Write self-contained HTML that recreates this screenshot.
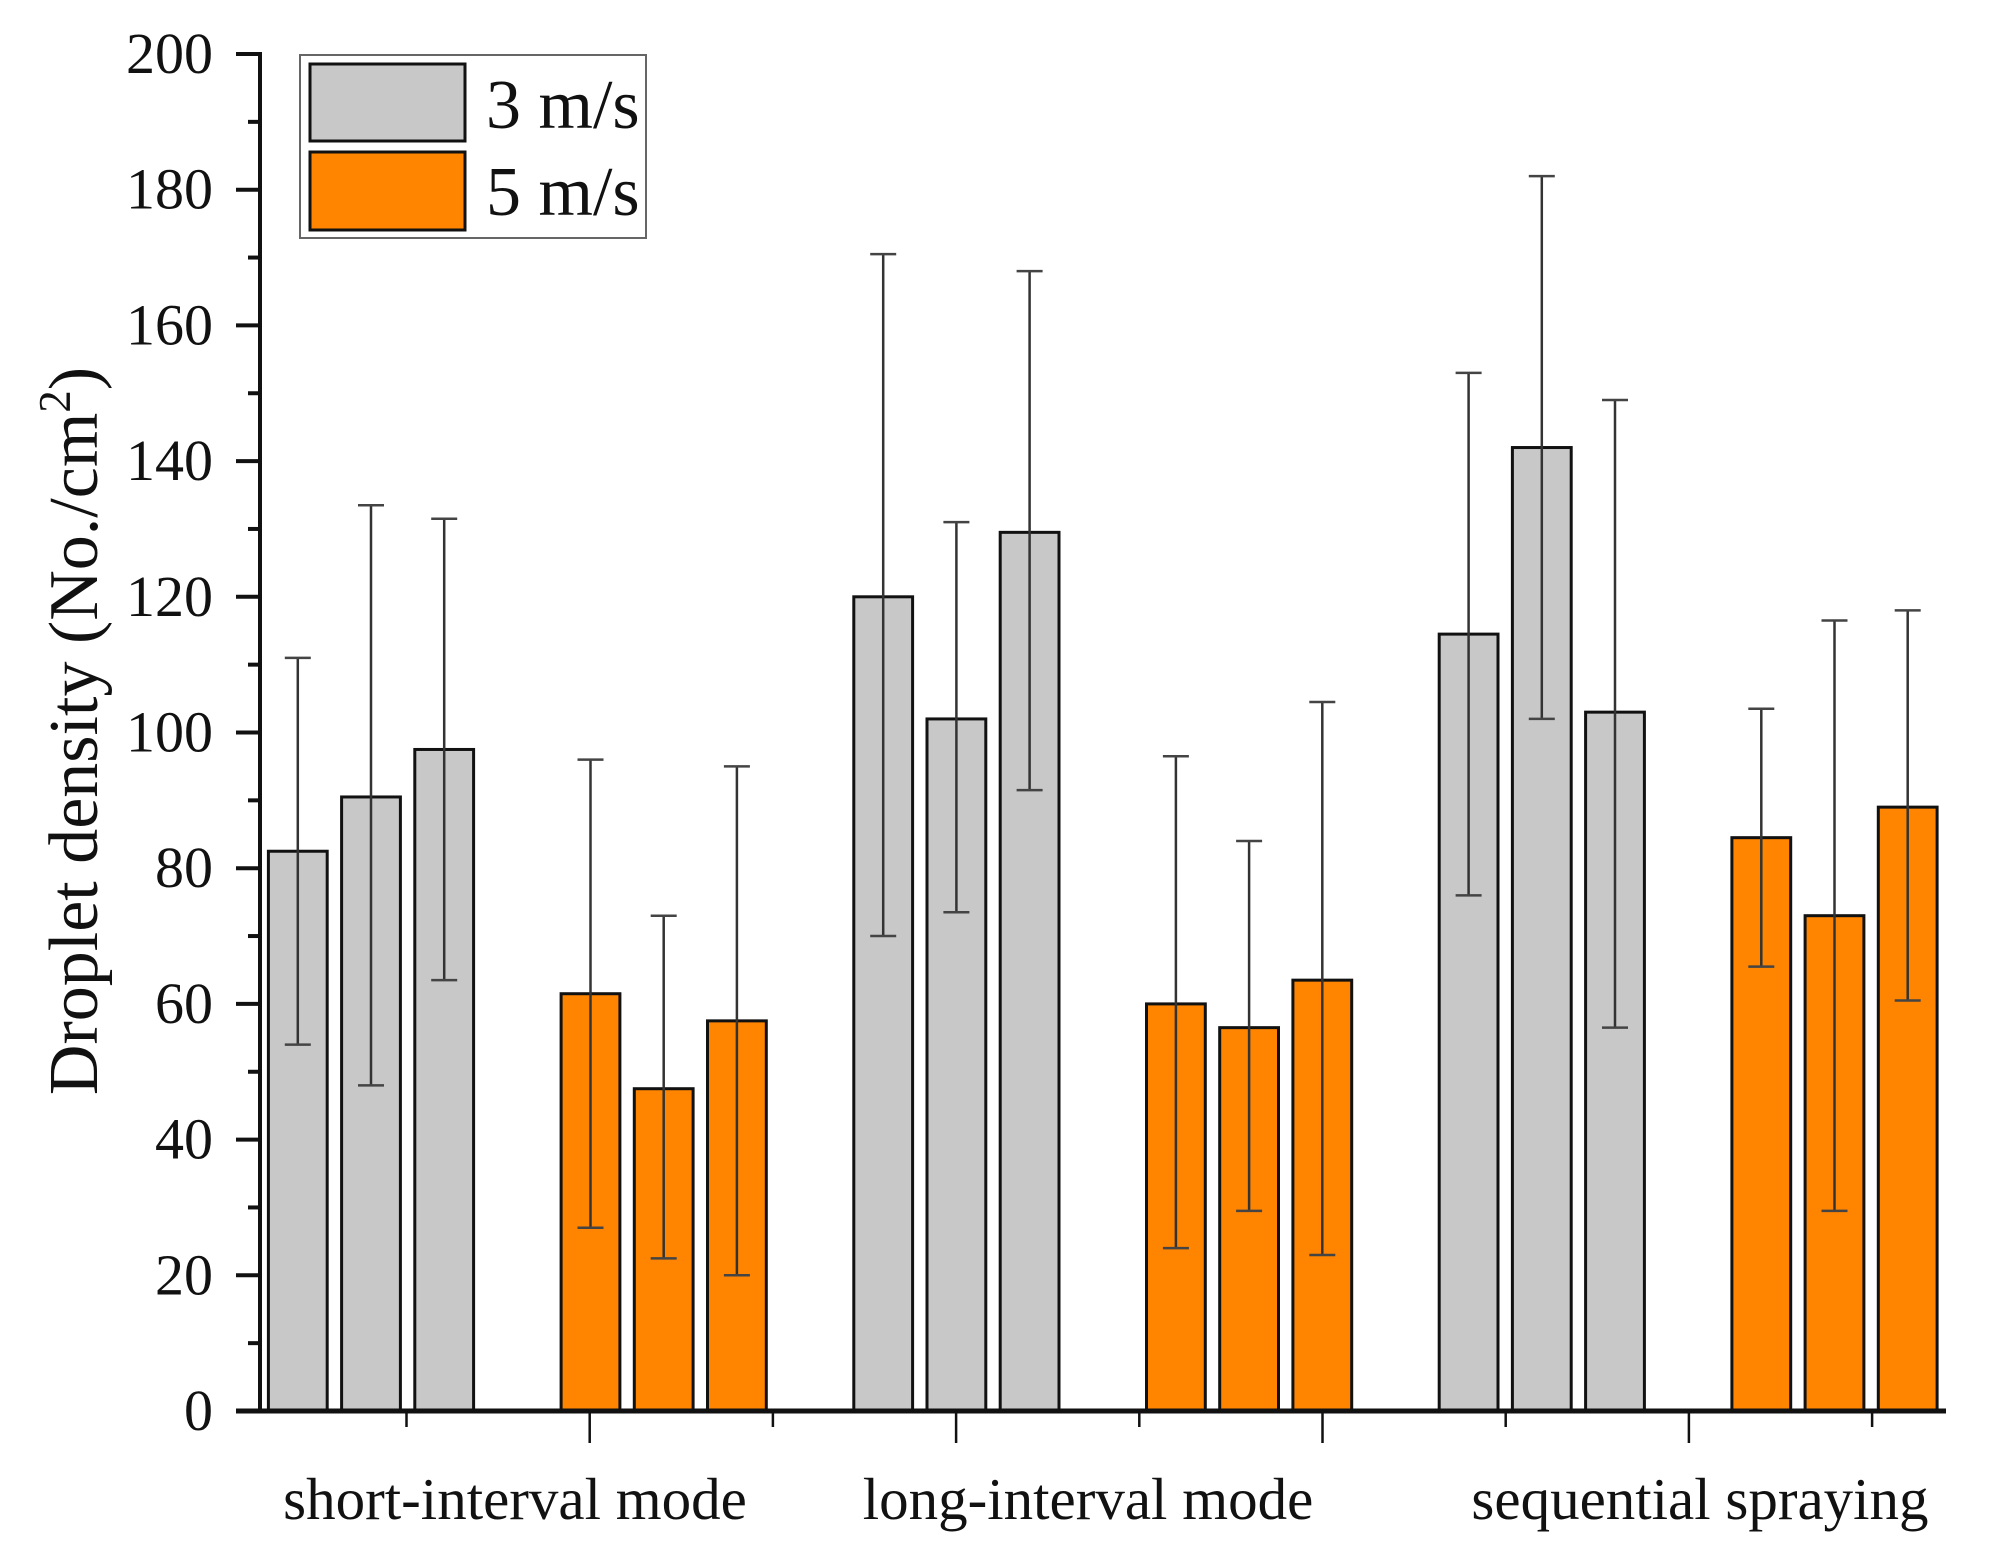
<!DOCTYPE html>
<html><head><meta charset="utf-8">
<style>
html,body{margin:0;padding:0;background:#fff;}
svg{display:block;}
text{font-family:"Liberation Serif",serif;fill:#111;}
</style></head>
<body>
<svg id="chart" width="2001" height="1560" viewBox="0 0 2001 1560">
  <g id="bars"></g>
  <g id="errs"></g>
  <g id="axes"></g>
  <text x="0" y="0" font-size="70" text-anchor="middle" transform="translate(97 731) rotate(-90)">Droplet density (No./cm<tspan font-size="45" dy="-27">2</tspan><tspan dy="27">)</tspan></text>
  <g>
    <rect x="300" y="55" width="346" height="183" fill="#fff" stroke="#666" stroke-width="2"/>
    <rect x="310" y="64" width="155" height="77" fill="#c8c8c8" stroke="#111" stroke-width="3"/>
    <text x="486" y="128" font-size="70">3 m/s</text>
    <rect x="310" y="152" width="155" height="78" fill="#ff8400" stroke="#111" stroke-width="3"/>
    <text x="486" y="215" font-size="70">5 m/s</text>
  </g>
</svg>
<script>
const categories = ["short-interval mode","long-interval mode","sequential spraying"];
const groupSpeeds = ["3 m/s","5 m/s","3 m/s","5 m/s","3 m/s","5 m/s"];
const means = [82.5,90.5,97.5, 61.5,47.5,57.5, 120,102,129.5, 60,56.5,63.5, 114.5,142,103, 84.5,73,89];
const errUpper = [111,133.5,131.5, 96,73,95, 170.5,131,168, 96.5,84,104.5, 153,182,149, 103.5,116.5,118];
const errLower = [54,48,63.5, 27,22.5,20, 70,73.5,91.5, 24,29.5,23, 76,102,56.5, 65.5,29.5,60.5];
const yTicks = [0,20,40,60,80,100,120,140,160,180,200];

const NS="http://www.w3.org/2000/svg";
const y0=1411, yTop=54, yMax=200;
function yScale(v){return y0-(v/yMax)*(y0-yTop);}
function xBar(i){const g=Math.floor(i/3), j=i%3; return 268.4+292.7*g+73.2*j;}
const barW=58.8;
function mk(tag,attrs,parent){const e=document.createElementNS(NS,tag);for(const k in attrs)e.setAttribute(k,attrs[k]);parent.appendChild(e);return e;}
const bars=document.getElementById('bars'), errs=document.getElementById('errs'), axes=document.getElementById('axes');

means.forEach((m,i)=>{
  const g=Math.floor(i/3);
  const fill = groupSpeeds[g]==="3 m/s" ? "#c8c8c8" : "#ff8400";
  const x=xBar(i), yv=yScale(m);
  const r=mk('rect',{x:x,y:yv,width:barW,height:y0-yv,fill:fill,stroke:'#111','stroke-width':3},bars);
  
  
  const cx=x+barW/2, yu=yScale(errUpper[i]), yl=yScale(errLower[i]);
  const l=mk('line',{x1:cx,x2:cx,y1:yu,y2:yl,stroke:'#333','stroke-width':2.5},errs);
  
  
  const c1=mk('line',{x1:cx-13,x2:cx+13,y1:yu,y2:yu,stroke:'#444','stroke-width':2.5},errs);
  
  
  const c2=mk('line',{x1:cx-13,x2:cx+13,y1:yl,y2:yl,stroke:'#444','stroke-width':2.5},errs);
  
  
});

const ya=mk('line',{x1:260,x2:260,y1:yTop-2,y2:y0,stroke:'#111','stroke-width':4},axes);


yTicks.forEach((t,k)=>{
  const y=yScale(t);
  const tk=mk('line',{x1:236,x2:260,y1:y,y2:y,stroke:'#111','stroke-width':4},axes);
  
  
  const tx=mk('text',{x:213,y:y+19,'font-size':58,'text-anchor':'end'},axes);
  tx.textContent=t;
  
  
  if(k<yTicks.length-1){
    const ym=yScale(t+10);
    const mt=mk('line',{x1:248,x2:260,y1:ym,y2:ym,stroke:'#111','stroke-width':4},axes);
    
    
  }
});
const xa=mk('line',{x1:236,x2:1946,y1:y0,y2:y0,stroke:'#111','stroke-width':5},axes);


for(let k=0;k<9;k++){
  const major=(k%2===1);
  const xx=406.5+183.2*k;
  const tk=mk('line',{x1:xx,x2:xx,y1:y0,y2:y0+(major?32:16),stroke:'#111','stroke-width':2.5},axes);
  
  
}
const catX=[515,1088,1700];
categories.forEach((c,i)=>{
  const t=mk('text',{x:catX[i],y:1519,'font-size':59,'text-anchor':'middle'},axes);
  t.textContent=c;
  
  
});
</script>
</body></html>
